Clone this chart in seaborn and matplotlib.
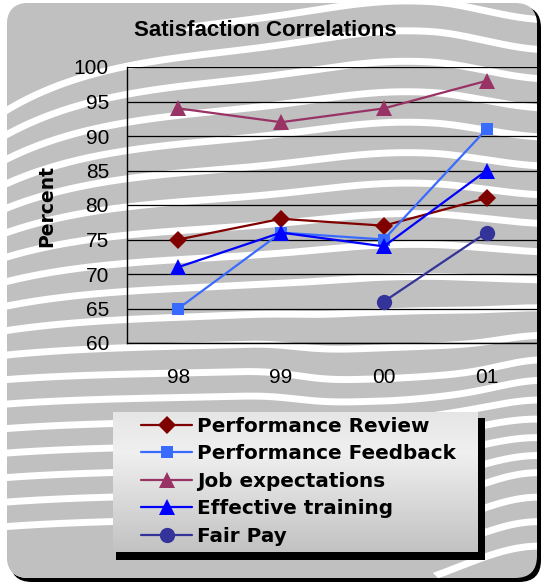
import numpy as np
import pandas as pd
import matplotlib
matplotlib.use("Agg")
import matplotlib.pyplot as plt
from matplotlib.patches import FancyBboxPatch, Rectangle, Polygon
from matplotlib.lines import Line2D
import seaborn as sns

# ---- data ----
years = ["98", "99", "00", "01"]
performance_review = [75, 78, 77, 81]
performance_feedback = [65, 76, 75, 91]
job_expectations = [94, 92, 94, 98]
effective_training = [71, 76, 74, 85]
fair_pay = [np.nan, np.nan, 66, 76]

series_names = ["Performance Review", "Performance Feedback", "Job expectations",
                "Effective training", "Fair Pay"]
series_values = [performance_review, performance_feedback, job_expectations,
                 effective_training, fair_pay]
y_ticks = [60, 65, 70, 75, 80, 85, 90, 95, 100]

palette = {
    "Performance Review": "#800000",
    "Performance Feedback": "#3a6bff",
    "Job expectations": "#993366",
    "Effective training": "#0000ff",
    "Fair Pay": "#333399",
}
markers = {
    "Performance Review": "D",
    "Performance Feedback": "s",
    "Job expectations": "^",
    "Effective training": "^",
    "Fair Pay": "o",
}
marker_sizes = {
    "Performance Review": 9,
    "Performance Feedback": 8.5,
    "Job expectations": 11,
    "Effective training": 11,
    "Fair Pay": 11,
}

rows = []
for name, vals in zip(series_names, series_values):
    for i, v in enumerate(vals):
        rows.append({"pos": i, "year": years[i], "series": name, "value": v})
df = pd.DataFrame(rows).dropna()

sns.set_theme(style="white")
plt.rcParams["font.family"] = ["Liberation Sans", "DejaVu Sans"]
for key in ("text.color", "axes.labelcolor", "xtick.color", "ytick.color"):
    plt.rcParams[key] = "black"

W, H = 541, 582
fig = plt.figure(figsize=(W / 100, H / 100), dpi=100)
fig.patch.set_facecolor("white")

# ---- decorative backdrop (pixel coordinates) ----
bg = fig.add_axes([0, 0, 1, 1], zorder=0)
bg.set_xlim(0, W)
bg.set_ylim(H, 0)
bg.axis("off")

GRAY = "#c0c0c0"
shadow = FancyBboxPatch((10, 6), 531, 576, boxstyle="round,pad=0,rounding_size=22",
                        facecolor="black", edgecolor="none")
bg.add_patch(shadow)
panel = FancyBboxPatch((7, 3), 530, 575, boxstyle="round,pad=0,rounding_size=22",
                       facecolor=GRAY, edgecolor="none")
bg.add_patch(panel)


def smooth(u):
    u = np.clip(u, 0, 1)
    return u * u * (3 - 2 * u)


def wave(x, k):
    base = 110 + 24.5 * k
    t = np.clip(k / 17, 0, 1)
    rise = max(66 - 5.5 * k, 8) * (1 - np.exp(-(x - 7) / 110))
    dome = -15 * (1 - 0.7 * t) * np.exp(-((x - 400) / 110) ** 2)
    right_fall = 8 * (1 - t) ** 2 * smooth((x - 430) / 110)
    trough = 15 * np.exp(-(((x - 400) / 110) ** 4)) * np.exp(-((k - 11) / 2.2) ** 2)
    swoosh = -45 * t ** 3 * smooth((x - 380) / 160)
    return base - rise + dome + right_fall + trough + swoosh


xs = np.linspace(0, W, 600)
stripe_y = {}
for k in range(-2, 21):
    y = wave(xs, k)
    stripe_y[k] = y
    ln, = bg.plot(xs, y, color="white", lw=5.0, solid_capstyle="butt")
    ln.set_clip_path(panel)

# plain grey lobes in the upper-left and lower-left corners
top_edge = stripe_y[0] - 4
sel = xs <= 150
top_pts = [(0, 0)] + list(zip(xs[sel], top_edge[sel])) + [(180, 35), (215, 0)]
top_lobe = Polygon(top_pts, closed=True, facecolor=GRAY, edgecolor="none", zorder=2)
bg.add_patch(top_lobe)
top_lobe.set_clip_path(panel)
low_edge = stripe_y[17] + 5
sel = xs <= 380
low_pts = [(0, 590)] + list(zip(xs[sel], low_edge[sel])) + [(450, 590)]
low_lobe = Polygon(low_pts, closed=True, facecolor=GRAY, edgecolor="none", zorder=2)
bg.add_patch(low_lobe)
low_lobe.set_clip_path(panel)

# legend panel with drop shadow and vertical gradient
bg.add_patch(Rectangle((116, 418), 369, 142, facecolor="black", edgecolor="none", zorder=3))
grad = np.concatenate([np.linspace(0.90, 0.94, 40), np.linspace(0.94, 0.76, 100)])
grad_img = np.repeat(grad[:, None, None], 3, axis=2)
bg.imshow(grad_img, extent=(113, 478, 552, 412), aspect="auto", interpolation="bilinear",
          zorder=4)

# ---- chart ----
ax = fig.add_axes([127 / W, 1 - 343 / H, (538 - 127) / W, (343 - 67) / H], zorder=2)
ax.patch.set_alpha(0)

sns.lineplot(data=df, x="pos", y="value", hue="series", style="series",
             hue_order=series_names, style_order=series_names,
             palette=palette, markers=markers, dashes=False, sort=False,
             linewidth=1.6, markersize=10, markeredgewidth=0, legend=False, ax=ax)
for line, name in zip(ax.lines, series_names):
    line.set_markersize(marker_sizes[name])

ax.set_xlim(-0.5, 3.5)
ax.set_ylim(60, 100)
ax.set_yticks(y_ticks)
ax.set_yticklabels([str(v) for v in y_ticks], fontsize=15)
ax.set_xticks(range(len(years)))
ax.set_xticklabels(years, fontsize=15)
ax.set_xticks(np.arange(-0.5, 3.6, 1.0), minor=True)
ax.tick_params(axis="x", which="major", length=0, pad=18)
ax.tick_params(axis="x", which="minor", length=6, width=1, direction="out", color="black")
ax.tick_params(axis="y", which="major", length=6, width=1, direction="out", color="black",
               pad=7)
ax.grid(axis="y", color="black", linewidth=0.9)
ax.grid(axis="x", visible=False)
ax.set_axisbelow(True)
for side in ("top", "right"):
    ax.spines[side].set_visible(False)
for side in ("left", "bottom"):
    ax.spines[side].set_color("black")
    ax.spines[side].set_linewidth(1.0)
ax.set_xlabel("")
ax.set_ylabel("")

fig.text(265 / W, 1 - 30 / H, "Satisfaction Correlations", ha="center", va="center",
         fontsize=16, fontweight="bold")
fig.text(47 / W, 1 - 206 / H, "Percent", ha="center", va="center", rotation=90,
         fontsize=13.5, fontweight="bold", family="DejaVu Sans")

handles = [Line2D([0], [0], color=palette[n], marker=markers[n], lw=1.6,
                  markersize=marker_sizes[n], markeredgewidth=0) for n in series_names]
ax.legend(handles, series_names, loc="upper left",
          bbox_to_anchor=(141 / W, 1 - 417 / H), bbox_transform=fig.transFigure,
          frameon=False, prop={"size": 14.4, "weight": "bold", "family": "DejaVu Sans"},
          handlelength=2.55, handletextpad=0.25, labelspacing=0.42,
          borderpad=0, borderaxespad=0)

fig.savefig("out.png", dpi=100)
